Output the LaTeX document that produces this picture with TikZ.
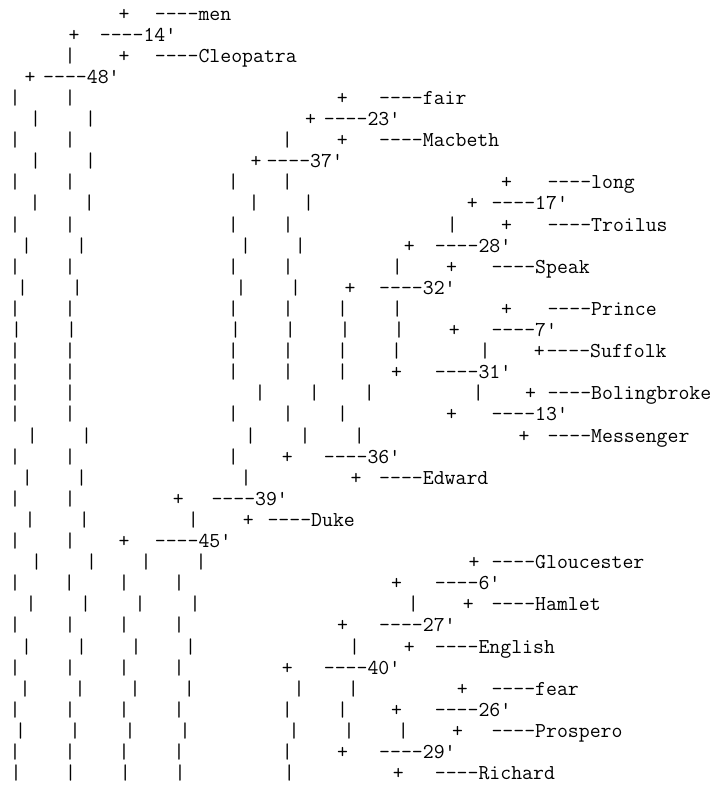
\documentclass[tikz,border=0pt]{standalone}
\usepackage{fontspec}
\usepackage{tikz}

% one printed line of the tree: row, x of the bars, x of the plus, x of the label, label
\newcommand{\treerow}[5]{%
  \pgfmathsetmacro{\rowy}{20+21.1*#1}%
  \def\barlist{#2}%
  \ifx\barlist\empty\else
    \foreach \bx [count=\k] in {#2} {\node[glyph] (bar#1-\k) at (\bx,\rowy) {|};}%
  \fi
  \node[glyph] (plus#1) at (#3,\rowy) {+};
  \node[lbl] (leaf#1) at (#4,\rowy) {----#5};
}

\begin{document}
\begin{tikzpicture}[
  x=1pt,y=-1pt,
  font=\fontsize{21.2}{24}\selectfont\ttfamily,
  glyph/.style={anchor=base,inner sep=0pt},
  lbl/.style={anchor=base west,inner sep=0pt,xshift=-2pt}
]
\useasboundingbox (0,0) rectangle (727,785);
% --- top cluster ---
\treerow{0}{}{124}{156.7}{men}
\treerow{1}{}{74}{101.7}{14'}
\treerow{2}{70}{124}{156.7}{Cleopatra}
\treerow{3}{}{30}{45}{48'}
% --- 37' group ---
\treerow{4}{15,70}{342.3}{381}{fair}
\treerow{5}{35.7,90.7}{310.5}{325.7}{23'}
\treerow{6}{15,70,287.3}{342.3}{381}{Macbeth}
\treerow{7}{35.7,90.7}{256}{268.3}{37'}
\treerow{8}{15,70,233.3,287.3}{506.7}{549.3}{long}
\treerow{9}{35,89.3,254,308.5}{472.3}{493.3}{17'}
\treerow{10}{15,70,233.3,288,452.3}{506.7}{549.3}{Troilus}
\treerow{11}{26.7,81.7,245.7,300.3}{409.3}{436.7}{28'}
\treerow{12}{15,70,233.3,288,397.3}{451.7}{493.3}{Speak}
\treerow{13}{22.7,77.3,241,295.7}{350}{381}{32'}
\treerow{14}{15,70,233.3,288,342.7,397.3}{506.7}{549.3}{Prince}
\treerow{15}{16.7,71.7,235.7,290.3,345,399}{454.3}{493.3}{7'}
\treerow{16}{15,70,233.3,288,342.7,396.7,485}{539.3}{548.3}{Suffolk}
\treerow{17}{15,70,233.3,288,342.7}{396.7}{436.7}{31'}
\treerow{18}{15,70,260,314.3,369.3,478.3}{530.7}{549.3}{Bolingbroke}
\treerow{19}{15,70,233.3,288,342.7}{451.7}{493.3}{13'}
\treerow{20}{32.3,86.7,250.7,305,359.3}{524}{549.3}{Messenger}
\treerow{21}{15,70,233.3}{287.3}{325.7}{36'}
\treerow{22}{27.3,81.7,246}{356}{381}{Edward}
\treerow{23}{15,70}{178.3}{213.3}{39'}
\treerow{24}{30,84.3,193.3}{248.3}{269.3}{Duke}
\treerow{25}{15,70}{124}{156.7}{45'}
% --- 29' group ---
\treerow{26}{36.7,91.7,146,201}{474}{493.3}{Gloucester}
\treerow{27}{15,69.3,124,179}{396.7}{436.7}{6'}
\treerow{28}{31,85.7,140,195,413.3}{468.3}{493.3}{Hamlet}
\treerow{29}{15,70,124,179}{342.7}{381}{27'}
\treerow{30}{26.7,81.7,136,190.7,354.5}{409.3}{436.7}{English}
\treerow{31}{15,70,124,179}{287.3}{325.7}{40'}
\treerow{32}{25,80,135,189.3,299,353.3}{462.3}{493.3}{fear}
\treerow{33}{15,70,124,179,287.3,342.7}{396.7}{436.7}{26'}
\treerow{34}{20.7,75,130,185,294,349,403.3}{457.7}{493.3}{Prospero}
\treerow{35}{15,70,124,179,287.3}{342.7}{381}{29'}
\treerow{36}{16,70.7,125.3,180,289.3}{398.3}{436.7}{Richard}
\end{tikzpicture}
\end{document}
